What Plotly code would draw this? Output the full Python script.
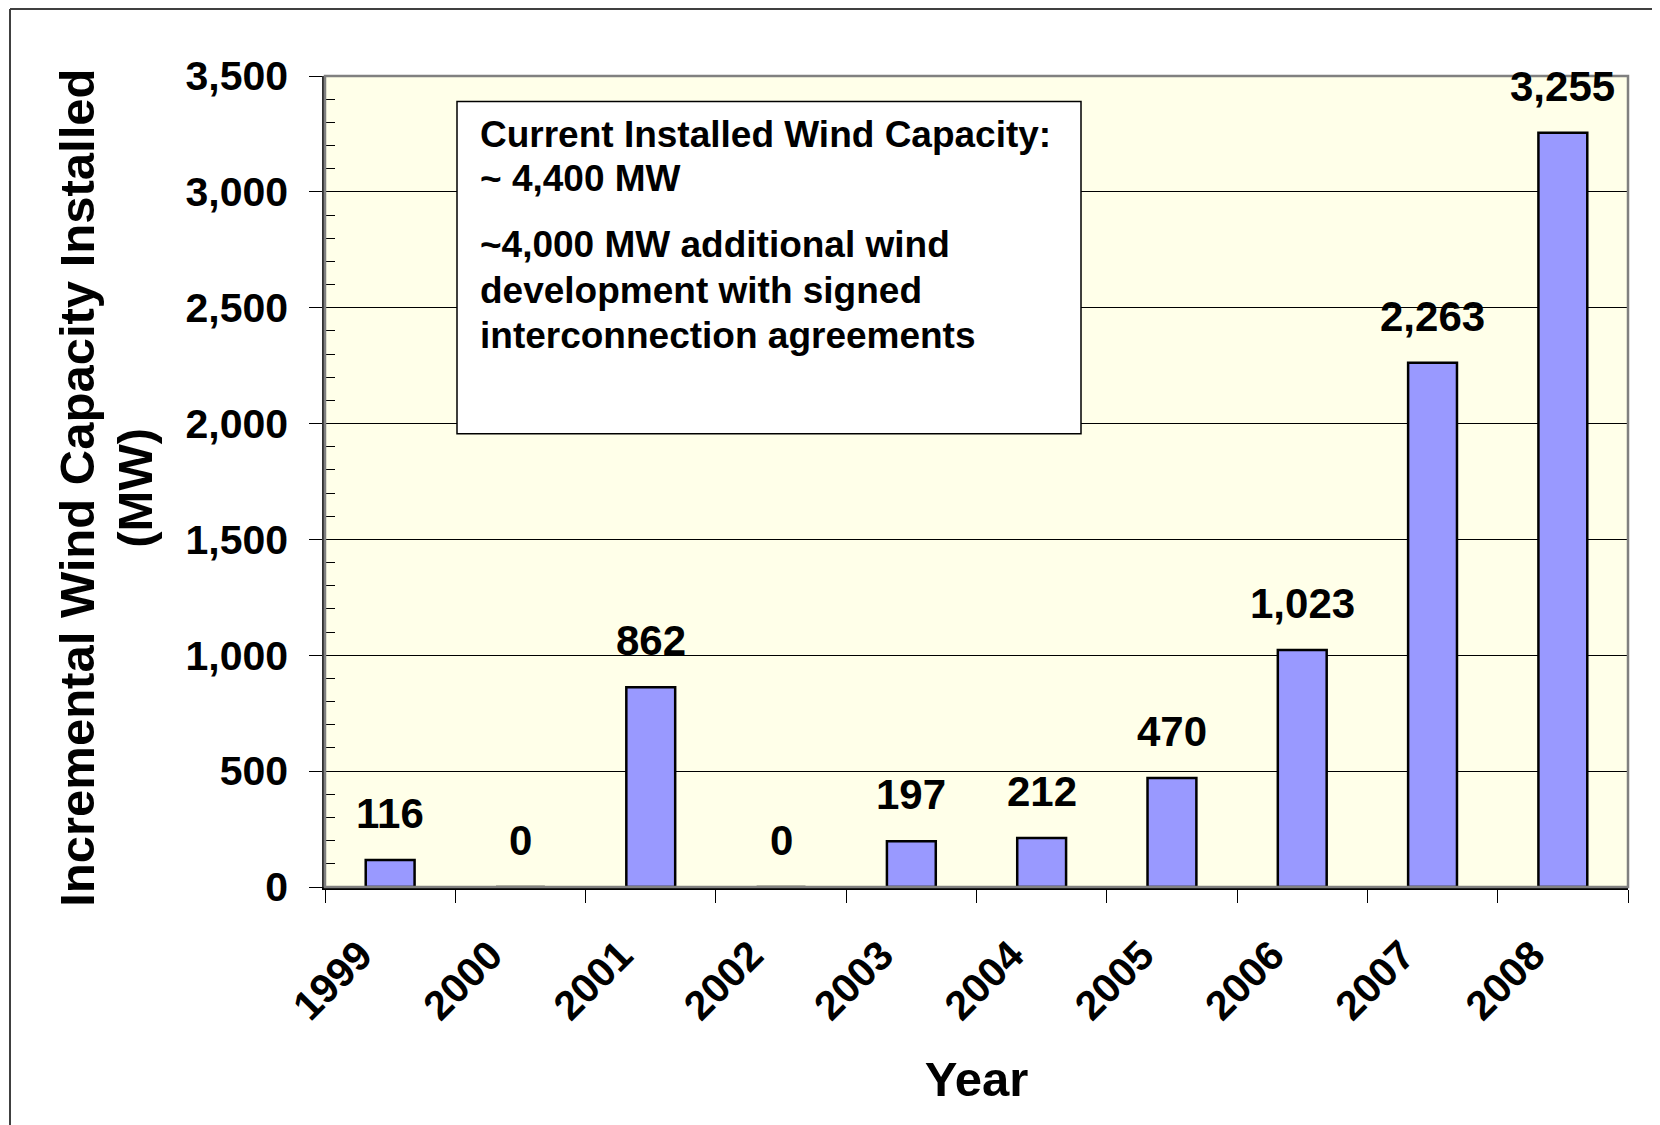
import plotly.graph_objects as go

# ---- data ----
years = ["1999", "2000", "2001", "2002", "2003", "2004", "2005", "2006", "2007", "2008"]
capacity_mw = [116, 0, 862, 0, 197, 212, 470, 1023, 2263, 3255]

y_title_lines = ["Incremental Wind Capacity Installed", "(MW)"]
x_title = "Year"
box_lines = [
    "Current Installed Wind Capacity:",
    "~ 4,400 MW",
    "~4,000 MW additional wind",
    "development with signed",
    "interconnection agreements",
]

# ---- layout geometry (pixels, reference coordinates; page body has 8px margin) ----
OFF = 8
W, H = 1660 - OFF, 1125 - OFF
ML = 325 - OFF
MT = 76 - OFF
PLOT_RIGHT = 1628 - OFF
PLOT_BOTTOM = 887.5 - OFF
MR = W - PLOT_RIGHT
MB = H - PLOT_BOTTOM
PW = W - ML - MR
PH = H - MT - MB


def px_x(x):
    return (x - OFF - ML) / PW


def px_y(y):
    return (PLOT_BOTTOM - (y - OFF)) / PH


FONT = "Liberation Sans, Arial, Helvetica, sans-serif"

fig = go.Figure()
fig.add_trace(go.Bar(
    x=years,
    y=capacity_mw,
    width=0.375,
    marker=dict(color="#9999FF", line=dict(color="#000000", width=2.5)),
    hoverinfo="x+y",
))

annotations = []
# data labels (x given as category index)
for i, v in enumerate(capacity_mw):
    annotations.append(dict(
        x=i, y=v, xref="x", yref="y",
        text=f"{v:,}", showarrow=False,
        xanchor="center", yanchor="bottom", yshift=21,
        font=dict(family=FONT, size=42, color="#000000", weight="bold"),
    ))

# text box lines
baselines = [148, 192, 258, 304, 349]
for line, b in zip(box_lines, baselines):
    annotations.append(dict(
        x=px_x(478), y=px_y(b + 9), xref="paper", yref="paper",
        text=line, showarrow=False, xanchor="left", yanchor="bottom",
        font=dict(family=FONT, size=37, color="#000000", weight="bold"),
    ))

# y-axis title (two rotated lines)
for line, cx in zip(y_title_lines, [77, 135]):
    annotations.append(dict(
        x=px_x(cx), y=px_y(488), xref="paper", yref="paper",
        text=line, showarrow=False, textangle=-90,
        xanchor="center", yanchor="middle",
        font=dict(family=FONT, size=49, color="#000000", weight="bold"),
    ))

shapes = [
    # plot-area border (grey)
    dict(type="rect", xref="paper", yref="paper", x0=0, y0=0, x1=1, y1=1,
         line=dict(color="#808080", width=2.5), fillcolor="rgba(0,0,0,0)", layer="above"),
    # text box
    dict(type="rect", xref="paper", yref="paper",
         x0=px_x(457), x1=px_x(1081), y0=px_y(434), y1=px_y(101.5),
         line=dict(color="#000000", width=1.5), fillcolor="#FFFFFF", layer="above"),
    # outer chart border (left and top edges visible)
    dict(type="line", xref="paper", yref="paper",
         x0=px_x(10), x1=px_x(10), y0=px_y(1140), y1=px_y(OFF + 1),
         line=dict(color="#404040", width=2)),
    dict(type="line", xref="paper", yref="paper",
         x0=px_x(10), x1=px_x(1680), y0=px_y(OFF + 1), y1=px_y(OFF + 1),
         line=dict(color="#404040", width=2)),
]

fig.update_layout(
    width=W, height=H,
    margin=dict(l=ML, r=MR, t=MT, b=MB, pad=0),
    paper_bgcolor="#FFFFFF",
    plot_bgcolor="#FFFFE9",
    showlegend=False,
    annotations=annotations,
    shapes=shapes,
    font=dict(family=FONT, color="#000000"),
)

fig.update_xaxes(
    type="category",
    categoryorder="array", categoryarray=years,
    range=[-0.5, len(years) - 0.5],
    tickangle=-45,
    tickson="boundaries",
    ticks="outside", ticklen=13, tickwidth=1.2, tickcolor="#000000",
    ticklabelshift=-30, ticklabelstandoff=25,
    tickfont=dict(family=FONT, size=41, color="#000000", weight="bold"),
    showline=True, linecolor="#000000", linewidth=2.5,
    showgrid=False,
    title=dict(text=x_title, standoff=34,
               font=dict(family=FONT, size=49, color="#000000", weight="bold")),
    automargin=False,
)

fig.update_yaxes(
    range=[0, 3500],
    dtick=500,
    tickformat=",",
    ticks="outside", ticklen=13, tickwidth=1.2, tickcolor="#000000",
    ticklabelstandoff=13,
    minor=dict(dtick=100, ticks="inside", ticklen=10, tickwidth=1.2, tickcolor="#000000", showgrid=False),
    tickfont=dict(family=FONT, size=41, color="#000000", weight="bold"),
    showline=True, linecolor="#303030", linewidth=2.5,
    showgrid=True, gridcolor="#000000", gridwidth=1,
    zeroline=False,
    automargin=False,
)

fig.write_html("out.html")
